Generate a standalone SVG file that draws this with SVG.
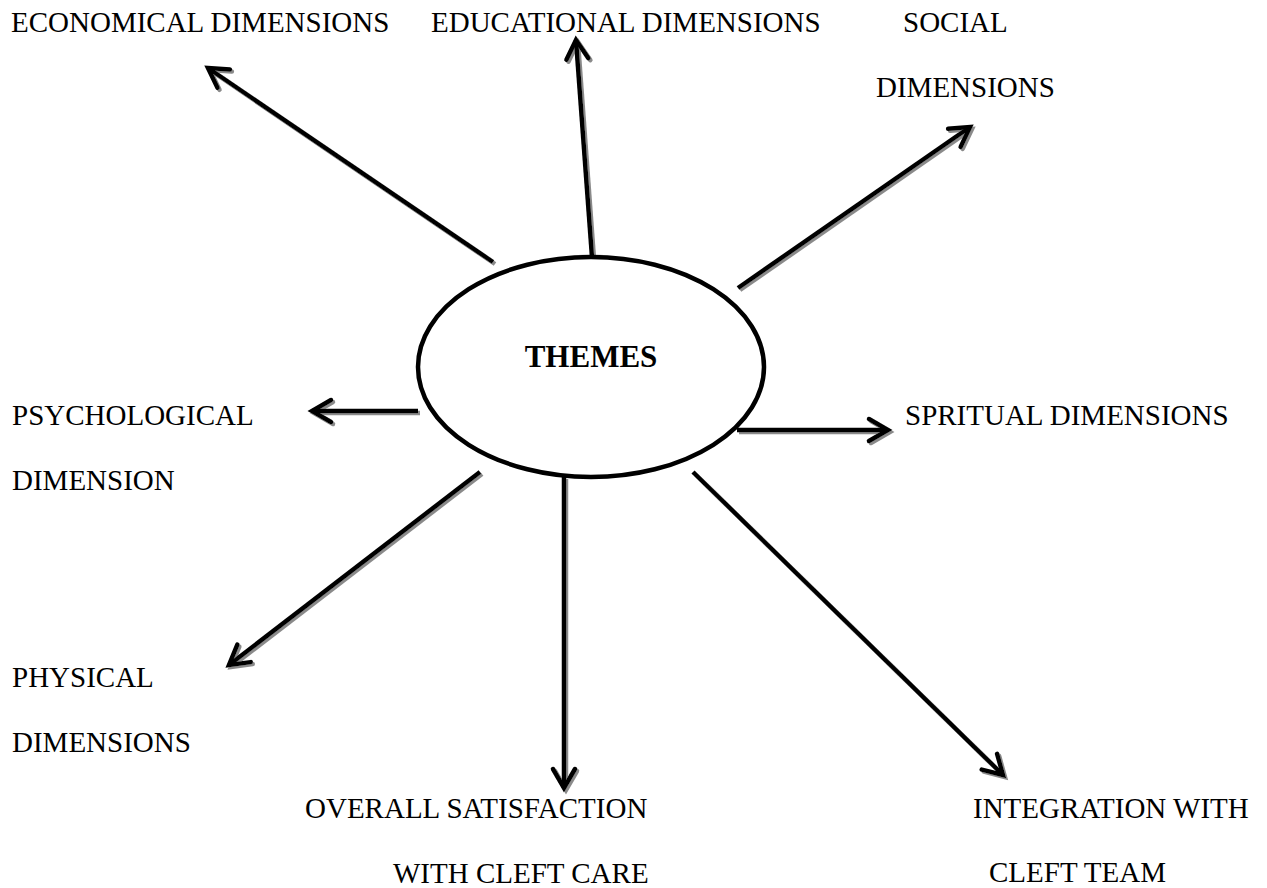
<svg xmlns="http://www.w3.org/2000/svg" width="1267" height="888" viewBox="0 0 1267 888">
<style>
.lbl{font-family:"Liberation Serif","Times New Roman",serif;font-size:29px;fill:#000}
.ttl{font-family:"Liberation Serif","Times New Roman",serif;font-size:31px;font-weight:bold;fill:#000}
.con{stroke:#000;stroke-width:4.5;fill:none;marker-end:url(#ah)}
</style>
<defs>
<marker id="ah" markerUnits="userSpaceOnUse" markerWidth="40" markerHeight="40" refX="0" refY="0" viewBox="-30 -20 40 40" orient="auto" overflow="visible">
<path d="M-19,-11 L0,0 L-19,11" fill="none" stroke="#000" stroke-width="4.5" stroke-linecap="round" stroke-linejoin="miter"/>
</marker>
<filter id="sh" x="-10%" y="-10%" width="120%" height="120%">
<feDropShadow dx="2" dy="2" stdDeviation="0.6" flood-color="#8a8a8a" flood-opacity="1"/>
</filter>
</defs>
<rect width="1267" height="888" fill="#fff"/>
<g id="connectors" filter="url(#sh)">
<line class="con" x1="493" y1="262" x2="208" y2="68"/>
<line class="con" x1="592" y1="257" x2="576" y2="40"/>
<line class="con" x1="738" y1="288" x2="970" y2="127"/>
<line class="con" x1="418" y1="411" x2="312" y2="411"/>
<line class="con" x1="737" y1="430" x2="888" y2="430"/>
<line class="con" x1="480" y1="472" x2="229" y2="665"/>
<line class="con" x1="564" y1="477" x2="564" y2="788"/>
<line class="con" x1="693" y1="472" x2="1003" y2="775"/>
</g>
<g id="themes">
<ellipse cx="591" cy="367" rx="173" ry="110" fill="#fff" stroke="#000" stroke-width="4.5"/>
<text class="ttl" x="591" y="367" text-anchor="middle">THEMES</text>
</g>
<g id="economical"><text class="lbl" x="11" y="32">ECONOMICAL DIMENSIONS</text></g>
<g id="educational"><text class="lbl" x="431" y="32">EDUCATIONAL DIMENSIONS</text></g>
<g id="social"><text class="lbl" x="903" y="32">SOCIAL</text><text class="lbl" x="876" y="97">DIMENSIONS</text></g>
<g id="psychological"><text class="lbl" x="12" y="425">PSYCHOLOGICAL</text><text class="lbl" x="12" y="490">DIMENSION</text></g>
<g id="spiritual"><text class="lbl" x="905" y="425">SPRITUAL DIMENSIONS</text></g>
<g id="physical"><text class="lbl" x="12" y="687">PHYSICAL</text><text class="lbl" x="12" y="752">DIMENSIONS</text></g>
<g id="overall"><text class="lbl" x="305" y="818">OVERALL SATISFACTION</text><text class="lbl" x="393" y="883">WITH CLEFT CARE</text></g>
<g id="integration"><text class="lbl" x="973" y="818">INTEGRATION WITH</text><text class="lbl" x="989" y="882">CLEFT TEAM</text></g>
</svg>
